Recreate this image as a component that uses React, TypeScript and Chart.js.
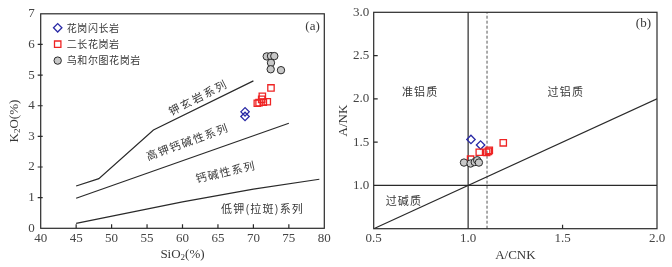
import React, { useEffect, useRef } from "react";
import { Chart, registerables } from "chart.js";

Chart.register(...registerables);

// ---------------- Panel (a): SiO2 vs K2O ----------------
const siO2Ticks = [40, 45, 50, 55, 60, 65, 70, 75, 80];
const k2oTicks = [0, 1, 2, 3, 4, 5, 6, 7];

const seriesNames = ["花岗闪长岩", "二长花岗岩", "乌和尔图花岗岩"];

const granodioriteSiO2 = [68.82, 68.82];
const granodioriteK2O = [3.8, 3.65];
const monzograniteSiO2 = [70.55, 70.8, 71.17, 71.26, 71.4, 71.96, 72.48];
const monzograniteK2O = [4.08, 4.1, 4.21, 4.31, 4.12, 4.13, 4.58];
const wuheGraniteSiO2 = [71.88, 72.48, 72.95, 72.48, 72.44, 73.89];
const wuheGraniteK2O = [5.61, 5.62, 5.62, 5.4, 5.19, 5.16];

const shoshoniteLineSiO2 = [45, 48.2, 55.9, 70];
const shoshoniteLineK2O = [1.38, 1.62, 3.21, 4.81];
const highKLineSiO2 = [45, 75];
const highKLineK2O = [0.98, 3.43];
const lowKLineSiO2 = [45, 60, 70, 79.3];
const lowKLineK2O = [0.16, 0.86, 1.28, 1.6];

const seriesFieldNames = ["钾玄岩系列", "高钾钙碱性系列", "钙碱性系列", "低钾(拉斑)系列"];

// ---------------- Panel (b): A/CNK vs A/NK ----------------
const acnkTicks = [0.5, 1.0, 1.5, 2.0];
const ankTicks = [0.5, 1.0, 1.5, 2.0, 2.5, 3.0];

const granodioriteACNK = [1.015, 1.066];
const granodioriteANK = [1.531, 1.466];
const monzograniteACNK = [1.013, 1.059, 1.098, 1.107, 1.112, 1.186];
const monzograniteANK = [1.303, 1.383, 1.382, 1.393, 1.405, 1.492];
const wuheGraniteACNK = [0.978, 1.013, 1.035, 1.048, 1.057];
const wuheGraniteANK = [1.264, 1.253, 1.27, 1.291, 1.264];

const verticalBoundaryACNK = [1.0, 1.0];
const verticalBoundaryANK = [0.5, 3.0];
const horizontalBoundaryACNK = [0.5, 2.0];
const horizontalBoundaryANK = [1.0, 1.0];
const diagonalACNK = [0.5, 2.0];
const diagonalANK = [0.5, 2.0];
const dashedBoundaryACNK = [1.1, 1.1];
const dashedBoundaryANK = [0.5, 3.0];

const fieldNamesB = ["准铝质", "过铝质", "过碱质"];

// ---------------- styles ----------------
const SERIF = "'Liberation Serif', 'Times New Roman', serif";
const CJK = "'Noto Sans CJK SC', 'Liberation Serif', sans-serif";
const INK = "#2a2a2a";
const TEXT = "#383838";
const BLUE = "#2a2aa6";
const RED = "#ee2424";
const GREY_FILL = "#c8c8c8";

function pts(xs: number[], ys: number[]) {
  return xs.map((x, i) => ({ x, y: ys[i] }));
}

function drawRich(ctx: CanvasRenderingContext2D, parts: [string, boolean][], cx: number, cy: number, size: number, rotate: boolean) {
  ctx.save();
  ctx.translate(cx, cy);
  if (rotate) ctx.rotate(-Math.PI / 2);
  const base = `${size}px ${SERIF}`;
  const sub = `${Math.round(size * 0.7)}px ${SERIF}`;
  let total = 0;
  const widths = parts.map(([t, s]) => {
    ctx.font = s ? sub : base;
    const w = ctx.measureText(t).width;
    total += w;
    return w;
  });
  let x = -total / 2;
  ctx.fillStyle = TEXT;
  ctx.textBaseline = "middle";
  ctx.textAlign = "left";
  parts.forEach(([t, s], i) => {
    ctx.font = s ? sub : base;
    ctx.fillText(t, x, s ? 3 : 0);
    x += widths[i];
  });
  ctx.restore();
}

function drawLabel(ctx: CanvasRenderingContext2D, text: string, px: number, py: number, rotDeg: number, size: number, spacing: number, align: CanvasTextAlign = "center") {
  ctx.save();
  ctx.translate(px, py);
  ctx.rotate((rotDeg * Math.PI) / 180);
  ctx.font = `${size}px ${CJK}`;
  (ctx as any).letterSpacing = `${spacing}px`;
  ctx.textAlign = align;
  ctx.textBaseline = "middle";
  ctx.fillStyle = TEXT;
  ctx.fillText(text, align === "center" ? spacing / 2 : 0, 0);
  ctx.restore();
}

function drawMarker(ctx: CanvasRenderingContext2D, kind: string, x: number, y: number) {
  ctx.save();
  ctx.lineWidth = 1.3;
  ctx.beginPath();
  if (kind === "diamond") {
    const r = 4.2;
    ctx.moveTo(x - r, y);
    ctx.lineTo(x, y - r);
    ctx.lineTo(x + r, y);
    ctx.lineTo(x, y + r);
    ctx.closePath();
    ctx.strokeStyle = BLUE;
    ctx.stroke();
  } else if (kind === "square") {
    const h = 3.2;
    ctx.rect(x - h, y - h, 2 * h, 2 * h);
    ctx.strokeStyle = RED;
    ctx.stroke();
  } else {
    ctx.arc(x, y, 3.7, 0, Math.PI * 2);
    ctx.fillStyle = GREY_FILL;
    ctx.fill();
    ctx.strokeStyle = INK;
    ctx.lineWidth = 1;
    ctx.stroke();
  }
  ctx.restore();
}

function frameAndTicks(chart: any, xTicks: number[], yTicks: number[], yOutward: boolean, xSkip: number[], ySkip: number[]) {
  const { ctx, chartArea: a, scales } = chart;
  const xs = scales.x;
  const ys = scales.y;
  ctx.save();
  ctx.strokeStyle = INK;
  ctx.lineWidth = 1.2;
  ctx.strokeRect(a.left, a.top, a.right - a.left, a.bottom - a.top);
  ctx.beginPath();
  xTicks.forEach((v) => {
    if (v > xs.min && v < xs.max && !xSkip.includes(v)) {
      const p = xs.getPixelForValue(v);
      ctx.moveTo(p, a.bottom);
      ctx.lineTo(p, a.bottom - 4);
    }
  });
  yTicks.forEach((v) => {
    if (v > ys.min && v < ys.max && !ySkip.includes(v)) {
      const p = ys.getPixelForValue(v);
      if (yOutward) {
        ctx.moveTo(a.left - 3, p);
        ctx.lineTo(a.left + 2, p);
      } else {
        ctx.moveTo(a.left, p);
        ctx.lineTo(a.left + 4, p);
      }
    }
  });
  ctx.stroke();
  ctx.restore();
}

const panelAPlugin = {
  id: "panelA",
  afterDraw(chart: any) {
    const { ctx, chartArea: a, scales } = chart;
    const xs = scales.x;
    const ys = scales.y;
    frameAndTicks(chart, siO2Ticks, k2oTicks, true, [], []);
    // axis titles
    drawRich(ctx, [["K", false], ["2", true], ["O(%)", false]], a.left - 26, (a.top + a.bottom) / 2, 13, true);
    drawRich(ctx, [["SiO", false], ["2", true], ["(%)", false]], (a.left + a.right) / 2, a.bottom + 26.5, 13, false);
    // panel tag
    ctx.save();
    ctx.font = `13px ${SERIF}`;
    ctx.fillStyle = TEXT;
    ctx.textAlign = "right";
    ctx.textBaseline = "middle";
    ctx.fillText("(a)", a.right - 4.5, a.top + 12.5);
    ctx.restore();
    // field labels
    const placements = [
      { x: 62.1, y: 4.26, rot: -27, size: 11, sp: 2 },
      { x: 60.6, y: 2.82, rot: -20, size: 11, sp: 1.4 },
      { x: 66.0, y: 1.84, rot: -13, size: 11, sp: 1.3 },
      { x: 71.2, y: 0.64, rot: 0, size: 11, sp: 1.2 },
    ];
    seriesFieldNames.forEach((t, i) => {
      const p = placements[i];
      drawLabel(ctx, t, xs.getPixelForValue(p.x), ys.getPixelForValue(p.y), p.rot, p.size, p.sp);
    });
    // legend
    const kinds = ["diamond", "square", "circle"];
    seriesNames.forEach((name, i) => {
      const y = a.top + 14 + i * 16.4;
      drawMarker(ctx, kinds[i], a.left + 17, y);
      drawLabel(ctx, name, a.left + 26, y, 0, 10, 0.6, "left");
    });
  },
};

const panelBPlugin = {
  id: "panelB",
  afterDraw(chart: any) {
    const { ctx, chartArea: a, scales } = chart;
    const xs = scales.x;
    const ys = scales.y;
    frameAndTicks(chart, acnkTicks, ankTicks, false, [1.0], [1.0]);
    drawRich(ctx, [["A/NK", false]], a.left - 30.5, (a.top + a.bottom) / 2, 13, true);
    drawRich(ctx, [["A/CNK", false]], (a.left + a.right) / 2, a.bottom + 26.5, 13, false);
    ctx.save();
    ctx.font = `13px ${SERIF}`;
    ctx.fillStyle = TEXT;
    ctx.textAlign = "right";
    ctx.textBaseline = "middle";
    ctx.fillText("(b)", a.right - 6, a.top + 11.5);
    ctx.restore();
    const placements = [
      { x: 0.743, y: 2.08 },
      { x: 1.514, y: 2.08 },
      { x: 0.657, y: 0.827 },
    ];
    fieldNamesB.forEach((t, i) => {
      const p = placements[i];
      drawLabel(ctx, t, xs.getPixelForValue(p.x), ys.getPixelForValue(p.y), 0, 11, 1.2);
    });
  },
};

function lineDs(xs: number[], ys: number[], dashed = false) {
  return {
    data: pts(xs, ys),
    showLine: true,
    pointRadius: 0,
    borderColor: dashed ? "#555" : INK,
    borderWidth: dashed ? 1 : 1.2,
    borderDash: dashed ? [3, 2] : [],
    fill: false,
  };
}

function scatterDs(xs: number[], ys: number[], kind: string) {
  const base: any = { data: pts(xs, ys), showLine: false, pointBorderWidth: 1.3 };
  if (kind === "diamond") {
    return { ...base, pointStyle: "rectRot", pointRadius: 4.2, pointBorderColor: BLUE, pointBackgroundColor: "rgba(255,255,255,0)" };
  }
  if (kind === "square") {
    return { ...base, pointStyle: "rect", pointRadius: 4.5, pointBorderColor: RED, pointBackgroundColor: "rgba(255,255,255,0)" };
  }
  return { ...base, pointStyle: "circle", pointRadius: 3.7, pointBorderWidth: 1, pointBorderColor: INK, pointBackgroundColor: GREY_FILL };
}

function axis(min: number, max: number, ticks: number[], size: number, pad: number, fmt: (v: number) => string) {
  return {
    type: "linear" as const,
    min,
    max,
    afterBuildTicks: (scale: any) => {
      scale.ticks = ticks.map((v) => ({ value: v }));
    },
    afterFit: (scale: any) => {
      if (scale.isHorizontal()) scale.height = size;
      else scale.width = size;
    },
    grid: { display: false, drawTicks: false },
    border: { display: false },
    ticks: {
      padding: pad,
      color: "#444",
      font: { family: SERIF, size: 13 },
      callback: (v: any) => fmt(Number(v)),
      autoSkip: false,
      maxRotation: 0,
    },
  };
}

function buildA(): any {
  return {
    type: "scatter",
    data: {
      datasets: [
        scatterDs(wuheGraniteSiO2, wuheGraniteK2O, "circle"),
        scatterDs(monzograniteSiO2, monzograniteK2O, "square"),
        scatterDs(granodioriteSiO2, granodioriteK2O, "diamond"),
        lineDs(shoshoniteLineSiO2, shoshoniteLineK2O),
        lineDs(highKLineSiO2, highKLineK2O),
        lineDs(lowKLineSiO2, lowKLineK2O),
      ],
    },
    options: {
      responsive: false,
      animation: false,
      devicePixelRatio: 1,
      layout: { padding: { left: 0, right: 11.7, top: 9.3, bottom: 0 } },
      plugins: { legend: { display: false }, tooltip: { enabled: false } },
      scales: {
        x: axis(40, 80, siO2Ticks, 38.7, 2, (v) => String(v)),
        y: axis(0, 7, k2oTicks, 40.7, 6, (v) => String(v)),
      },
    },
    plugins: [panelAPlugin],
  };
}

function buildB(): any {
  return {
    type: "scatter",
    data: {
      datasets: [
        scatterDs(wuheGraniteACNK, wuheGraniteANK, "circle"),
        scatterDs(monzograniteACNK, monzograniteANK, "square"),
        scatterDs(granodioriteACNK, granodioriteANK, "diamond"),
        lineDs(verticalBoundaryACNK, verticalBoundaryANK),
        lineDs(horizontalBoundaryACNK, horizontalBoundaryANK),
        lineDs(diagonalACNK, diagonalANK),
        lineDs(dashedBoundaryACNK, dashedBoundaryANK, true),
      ],
    },
    options: {
      responsive: false,
      animation: false,
      devicePixelRatio: 1,
      layout: { padding: { left: 0, right: 15, top: 9.5, bottom: 0 } },
      plugins: { legend: { display: false }, tooltip: { enabled: false } },
      scales: {
        x: axis(0.5, 2.0, acnkTicks, 38.3, 2, (v) => v.toFixed(1)),
        y: axis(0.5, 3.0, ankTicks, 37.7, 4.5, (v) => (v === 0.5 ? "" : v.toFixed(1))),
      },
    },
    plugins: [panelBPlugin],
  };
}

export default function App() {
  const aRef = useRef<HTMLCanvasElement>(null);
  const bRef = useRef<HTMLCanvasElement>(null);
  useEffect(() => {
    const ca = new Chart(aRef.current as HTMLCanvasElement, buildA());
    const cb = new Chart(bRef.current as HTMLCanvasElement, buildB());
    return () => {
      ca.destroy();
      cb.destroy();
    };
  }, []);
  return (
    <div style={{ position: "fixed", left: 0, top: 0, width: 672, height: 267, background: "#fff", overflow: "hidden" }}>
      <canvas ref={aRef} width={336} height={267} style={{ position: "absolute", left: 0, top: 0 }} />
      <canvas ref={bRef} width={336} height={267} style={{ position: "absolute", left: 336, top: 0 }} />
    </div>
  );
}
